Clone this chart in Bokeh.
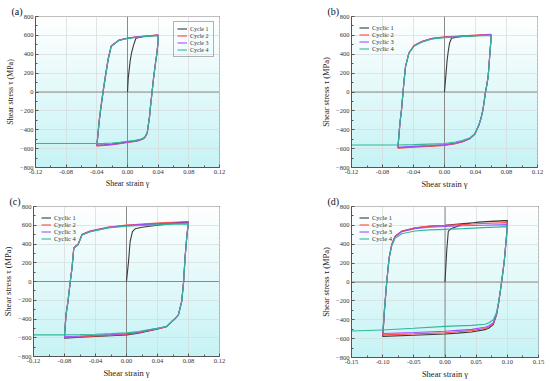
from bokeh.plotting import figure
from bokeh.layouts import column, row
from bokeh.models import (FixedTicker, NumeralTickFormatter, Span, BoxAnnotation,
                          Legend, LegendItem, Range1d)
from bokeh.embed import file_html
from bokeh.resources import INLINE

FONT = "Liberation Serif"
COLORS = ["#3a3a3a", "#ff4a4a", "#a64dff", "#2fb897"]

Y_TICKS = [-800, -600, -400, -200, 0, 200, 400, 600, 800]
X_TICKS_ABC = [-0.12, -0.08, -0.04, 0.00, 0.04, 0.08, 0.12]
X_TICKS_D = [-0.15, -0.10, -0.05, 0.00, 0.05, 0.10, 0.15]

NAMES_CYCLE = ["Cycle 1", "Cycle 2", "Cycle 3", "Cycle 4"]
NAMES_CYCLIC = ["Cyclic 1", "Cyclic 2", "Cyclic 3", "Cyclic 4"]

# ---------------- panel (a) : strain amplitude 0.04 ----------------
A_INIT_X = [0.000, 0.001, 0.0035, 0.0052, 0.008, 0.011, 0.020, 0.030, 0.040]
A_INIT_Y = [0, 150, 330, 413, 500, 569, 585, 593, 600]
A_DOWN_X = [0.040, 0.040, 0.0385, 0.0365, 0.034, 0.032, 0.030, 0.0287, 0.027, 0.0257,
            0.023, 0.020, 0.015, 0.010, 0.000, -0.010, -0.020, -0.030, -0.040]
A_UP_X = [-0.040, -0.0396, -0.037, -0.035, -0.0318, -0.0287, -0.0252, -0.0213, -0.0187,
          -0.015, -0.0113, -0.005, 0.000, 0.010, 0.020, 0.030, 0.040]
A_C1_DOWN = [600, 540, 420, 307, 150, 0, -150, -258, -360, -434, -475, -495, -510, -518, -530, -542, -552, -560, -565]
A_C1_UP = [-565, -540, -320, -187, 0, 166, 343, 484, 501, 525, 547, 560, 569, 580, 588, 595, 600]
A_C2_DOWN = [605, 545, 425, 310, 150, 0, -155, -265, -365, -440, -480, -500, -515, -525, -535, -548, -558, -566, -572]
A_C2_UP = [-572, -540, -300, -170, 20, 185, 360, 490, 505, 528, 550, 562, 571, 582, 590, 598, 605]
A_C3_DOWN = [603, 545, 420, 305, 145, -5, -155, -262, -362, -436, -478, -498, -512, -522, -532, -545, -555, -562, -568]
A_C3_UP = [-568, -545, -320, -185, 5, 170, 348, 486, 503, 526, 548, 561, 570, 581, 589, 596, 603]
A_C4_DOWN = [598, 540, 415, 300, 140, -10, -160, -265, -355, -430, -470, -490, -505, -512, -522, -532, -540, -544, -545]
A_C4_UP = [-545, -520, -310, -180, 5, 170, 345, 484, 500, 523, 545, 558, 566, 577, 585, 592, 598]
A_TAIL_X = [-0.12, -0.04]
A_TAIL_Y = [-545, -545]

# ---------------- panel (b) : strain amplitude 0.06 ----------------
B_INIT_X = [0.000, 0.0015, 0.0034, 0.005, 0.0065, 0.009, 0.020, 0.040, 0.060]
B_INIT_Y = [0, 150, 339, 440, 516, 569, 585, 596, 607]
B_DOWN_X = [0.060, 0.0598, 0.0585, 0.0563, 0.0545, 0.0529, 0.0512, 0.0495, 0.047, 0.0443,
            0.039, 0.033, 0.0228, 0.0142, 0.000, -0.020, -0.040, -0.060]
B_UP_X = [-0.060, -0.0598, -0.0575, -0.0555, -0.0525, -0.0503, -0.046, -0.0396, -0.0288,
          -0.016, 0.000, 0.020, 0.040, 0.060]
B_C1_DOWN = [607, 540, 400, 162, 70, 0, -100, -191, -280, -350, -445, -490, -526, -544, -562, -572, -580, -590]
B_C1_UP = [-590, -562, -330, -191, 92, 269, 410, 488, 534, 566, 580, 590, 598, 607]
B_C2_DOWN = [612, 545, 405, 165, 72, 0, -100, -195, -285, -355, -450, -495, -530, -548, -566, -578, -586, -595]
B_C2_UP = [-595, -565, -330, -190, 95, 272, 415, 492, 538, 570, 584, 594, 603, 612]
B_C3_DOWN = [608, 540, 400, 160, 68, -2, -102, -193, -282, -352, -447, -490, -525, -542, -558, -568, -576, -585]
B_C3_UP = [-585, -562, -332, -192, 90, 268, 410, 488, 534, 566, 580, 590, 599, 608]
B_C4_DOWN = [600, 535, 395, 155, 65, -5, -105, -195, -280, -350, -445, -485, -515, -530, -545, -552, -558, -562]
B_C4_UP = [-562, -545, -320, -185, 92, 268, 408, 485, 530, 562, 576, 585, 593, 600]
B_TAIL_X = [-0.12, -0.06]
B_TAIL_Y = [-562, -562]

# ---------------- panel (c) : strain amplitude 0.08 ----------------
C_INIT_X = [0.000, 0.0026, 0.0047, 0.0077, 0.0111, 0.020, 0.040, 0.060, 0.080]
C_INIT_Y = [0, 213, 427, 533, 562, 578, 600, 618, 633]
C_DOWN_X = [0.080, 0.0795, 0.078, 0.0755, 0.0737, 0.0712, 0.0669, 0.062, 0.0583, 0.0519,
            0.045, 0.039, 0.030, 0.0154, 0.000, -0.020, -0.040, -0.060, -0.080]
C_UP_X = [-0.080, -0.0798, -0.078, -0.0755, -0.0725, -0.0703, -0.068, -0.066, -0.0626,
          -0.0574, -0.0467, -0.0232, 0.000, 0.020, 0.040, 0.060, 0.080]
C_C1_DOWN = [633, 600, 498, 249, 0, -213, -356, -400, -427, -480, -495, -508, -525, -551, -569, -578, -586, -595, -604]
C_C1_UP = [-604, -560, -356, -213, 0, 142, 356, 370, 391, 498, 533, 576, 597, 608, 617, 625, 633]
C_C2_DOWN = [640, 605, 500, 250, 0, -215, -358, -402, -430, -482, -497, -505, -520, -545, -562, -572, -580, -590, -598]
C_C2_UP = [-598, -555, -350, -210, 5, 148, 362, 378, 398, 505, 540, 582, 603, 614, 623, 632, 640]
C_C3_DOWN = [625, 595, 495, 245, -3, -215, -358, -403, -428, -480, -494, -503, -516, -540, -556, -566, -574, -582, -590]
C_C3_UP = [-590, -550, -350, -212, 3, 145, 358, 373, 393, 500, 536, 578, 598, 608, 615, 620, 625]
C_C4_DOWN = [615, 590, 490, 240, -5, -218, -360, -405, -428, -478, -490, -500, -512, -535, -548, -556, -562, -566, -569]
C_C4_UP = [-569, -540, -345, -208, 5, 145, 355, 370, 390, 496, 530, 572, 590, 598, 604, 610, 615]
C_TAIL_X = [-0.12, -0.08]
C_TAIL_Y = [-569, -569]

# ---------------- panel (d) : strain amplitude 0.10 ----------------
D_INIT_X = [0.000, 0.0027, 0.0053, 0.0096, 0.0267, 0.0534, 0.080, 0.100]
D_INIT_Y = [0, 325, 537, 565, 608, 636, 645, 650]
D_DOWN_X = [0.100, 0.0995, 0.0988, 0.095, 0.0908, 0.0865, 0.0828, 0.0775, 0.070, 0.0641,
            0.0427, 0.020, 0.000, -0.050, -0.100]
D_UP_X = [-0.100, -0.0985, -0.0972, -0.0935, -0.0897, -0.0855, -0.0801, -0.0694, -0.048,
          -0.025, 0.000, 0.030, 0.060, 0.100]
D_C1_DOWN = [650, 600, 502, 219, 0, -205, -346, -452, -490, -505, -530, -542, -551, -565, -576]
D_C1_UP = [-576, -450, -311, 0, 254, 396, 484, 537, 572, 590, 600, 620, 636, 650]
D_C2_DOWN = [629, 590, 495, 215, 0, -200, -340, -440, -478, -492, -515, -527, -537, -550, -560]
D_C2_UP = [-560, -440, -305, 0, 256, 398, 486, 540, 575, 592, 600, 610, 620, 629]
D_C3_DOWN = [608, 575, 490, 212, 0, -198, -335, -430, -466, -480, -502, -513, -522, -535, -545]
D_C3_UP = [-545, -432, -300, 0, 252, 392, 480, 532, 565, 580, 588, 596, 602, 608]
D_C4_DOWN = [587, 560, 480, 210, 0, -195, -320, -400, -435, -447, -460, -465, -470, -490, -508]
D_C4_UP = [-508, -420, -290, 0, 248, 380, 462, 512, 540, 552, 558, 566, 576, 587]
D_TAIL_X = [-0.15, -0.10]
D_TAIL_Y = [-520, -508]


def mids(t):
    return [(a + b) / 2 for a, b in zip(t[:-1], t[1:])]


def make_panel(tag, x_ticks, names, legend_loc, boxed, init_x, init_y, down_x, up_x,
               downs, ups, tail_x, tail_y, borders, frame, fs):
    p = figure(frame_width=frame[0], frame_height=frame[1],
               min_border_left=borders[0], min_border_right=borders[1],
               min_border_top=borders[2], min_border_bottom=borders[3],
               x_range=Range1d(x_ticks[0], x_ticks[-1]),
               y_range=Range1d(Y_TICKS[0], Y_TICKS[-1]),
               output_backend="svg", toolbar_location=None,
               background_fill_color="white", border_fill_color="white",
               title=tag)
    p.title.align = "left"
    p.title.offset = -24
    p.title.standoff = 0
    p.title.text_font = FONT
    p.title.text_font_size = "10px"
    p.title.text_font_style = "normal"
    p.title.text_color = "#111111"
    # soft vertical gradient background (white top -> light cyan bottom)
    n = 40
    y0, y1 = Y_TICKS[0], Y_TICKS[-1]
    for i in range(n):
        b = y0 + (y1 - y0) * i / n
        t = y0 + (y1 - y0) * (i + 1) / n
        f = (i + 0.5) / n
        col = "#%02x%02x%02x" % (int(198 + 57 * f), int(243 + 12 * f), int(245 + 10 * f))
        p.add_layout(BoxAnnotation(bottom=b, top=t, fill_color=col, fill_alpha=1.0,
                                   line_color=col, line_alpha=1.0, line_width=1,
                                   level="image"))
    xt = FixedTicker(ticks=x_ticks, minor_ticks=mids(x_ticks))
    yt = FixedTicker(ticks=Y_TICKS, minor_ticks=mids(Y_TICKS))
    p.xaxis.ticker = xt
    p.yaxis.ticker = yt
    p.xgrid.ticker = xt
    p.ygrid.ticker = yt
    p.xaxis.formatter = NumeralTickFormatter(format="0.00")
    for g in (p.xgrid, p.ygrid):
        g.grid_line_color = "#d6dada"
        g.grid_line_width = 0.7
    for ax in (p.xaxis, p.yaxis):
        ax.axis_line_color = "#555555"
        ax.major_tick_line_color = "#555555"
        ax.minor_tick_line_color = "#555555"
        ax.major_tick_in = 3
        ax.major_tick_out = 0
        ax.minor_tick_in = 2
        ax.minor_tick_out = 0
        ax.major_label_text_font = FONT
        ax.major_label_text_font_size = fs[0]
        ax.major_label_text_color = "#333333"
        ax.major_label_standoff = 2
        ax.axis_label_text_font = FONT
        ax.axis_label_text_font_style = "normal"
        ax.axis_label_text_font_size = fs[1]
        ax.axis_label_text_color = "#222222"
        ax.axis_label_standoff = 2
    p.xaxis.axis_label = "Shear strain γ"
    p.yaxis.axis_label = "Shear stress τ (MPa)"
    p.outline_line_color = "#555555"
    p.outline_line_width = 1
    p.add_layout(Span(location=0, dimension="width", line_color="#8a8a8a",
                      line_width=1, level="underlay"))
    p.add_layout(Span(location=0, dimension="height", line_color="#8a8a8a",
                      line_width=1, level="underlay"))

    rs = []
    for k in range(4):
        xs = list(down_x) + list(up_x)
        ys = list(downs[k]) + list(ups[k])
        if k == 0:
            xs = list(init_x) + xs
            ys = list(init_y) + ys
        r = p.line(xs, ys, line_color=COLORS[k], line_width=1.1)
        rs.append(r)
    p.line(tail_x, tail_y, line_color=COLORS[3], line_width=1.1)

    leg = Legend(items=[LegendItem(label=names[k], renderers=[rs[k]]) for k in range(4)],
                 location=legend_loc)
    leg.label_text_font = FONT
    leg.label_text_font_size = fs[2]
    leg.label_text_color = "#333333"
    leg.glyph_width = 10
    leg.glyph_height = 7
    leg.label_height = 7
    leg.label_standoff = 3
    leg.spacing = 0
    leg.padding = 3
    leg.margin = 5
    leg.background_fill_alpha = 0.0
    if boxed:
        leg.border_line_color = "#666666"
        leg.border_line_width = 0.8
    else:
        leg.border_line_alpha = 0.0
    p.add_layout(leg)
    return p


pa = make_panel("(a)", X_TICKS_ABC, NAMES_CYCLE, "top_right", True,
                A_INIT_X, A_INIT_Y, A_DOWN_X, A_UP_X,
                [A_C1_DOWN, A_C2_DOWN, A_C3_DOWN, A_C4_DOWN],
                [A_C1_UP, A_C2_UP, A_C3_UP, A_C4_UP], A_TAIL_X, A_TAIL_Y,
                (35, 99, 16, 26), (184, 151), ("6.5px", "8px", "6px"))
pb = make_panel("(b)", X_TICKS_ABC, NAMES_CYCLIC, "top_left", False,
                B_INIT_X, B_INIT_Y, B_DOWN_X, B_UP_X,
                [B_C1_DOWN, B_C2_DOWN, B_C3_DOWN, B_C4_DOWN],
                [B_C1_UP, B_C2_UP, B_C3_UP, B_C4_UP], B_TAIL_X, B_TAIL_Y,
                (33, 8, 16, 26), (186, 151), ("6.5px", "8.5px", "6.5px"))
pc = make_panel("(c)", X_TICKS_ABC, NAMES_CYCLIC, "top_left", False,
                C_INIT_X, C_INIT_Y, C_DOWN_X, C_UP_X,
                [C_C1_DOWN, C_C2_DOWN, C_C3_DOWN, C_C4_DOWN],
                [C_C1_UP, C_C2_UP, C_C3_UP, C_C4_UP], C_TAIL_X, C_TAIL_Y,
                (33, 99, 12, 22), (186, 150), ("6.5px", "8.5px", "6.5px"))
pd_ = make_panel("(d)", X_TICKS_D, NAMES_CYCLE, "top_left", False,
                 D_INIT_X, D_INIT_Y, D_DOWN_X, D_UP_X,
                 [D_C1_DOWN, D_C2_DOWN, D_C3_DOWN, D_C4_DOWN],
                 [D_C1_UP, D_C2_UP, D_C3_UP, D_C4_UP], D_TAIL_X, D_TAIL_Y,
                 (33, 8, 12, 22), (187, 151), ("6.5px", "8.5px", "6.5px"))

layout = column(row(pa, pb), row(pc, pd_))
open("out.html", "w").write(file_html(layout, INLINE))
